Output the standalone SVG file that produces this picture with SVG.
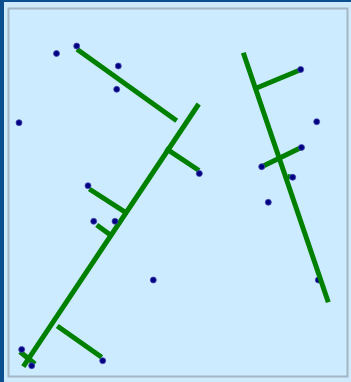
<svg xmlns="http://www.w3.org/2000/svg" width="351" height="382" viewBox="0 0 351 382">
<style>
.seg{stroke:#008000;stroke-width:5;fill:none;stroke-linecap:butt}
.pt{fill:#000080;stroke:#4a4ab8;stroke-width:0.8}
</style>
<rect x="0" y="0" width="351" height="382" fill="#cfeafd"/>
<rect x="0" y="0" width="4" height="382" fill="#0b4f8e"/>
<rect x="0" y="0" width="351" height="2" fill="#0b4f8e"/>
<rect x="8.5" y="8.5" width="339" height="368" fill="#cdebfe" stroke="#a3b6c5" stroke-width="2"/>
<g id="hidden-point">
<circle class="pt" cx="318.3" cy="280" r="3"/>
</g>
<g id="connectors">
<line class="seg" x1="77" y1="49.3" x2="176.7" y2="120.7"/>
<line class="seg" x1="198.7" y1="104" x2="23.3" y2="366.7"/>
<line class="seg" x1="165.7" y1="148.3" x2="199" y2="170.5"/>
<line class="seg" x1="89.3" y1="189" x2="125.5" y2="212.3"/>
<line class="seg" x1="96.7" y1="225" x2="110.5" y2="235"/>
<line class="seg" x1="57.3" y1="326" x2="101.7" y2="357.3"/>
<line class="seg" x1="20" y1="351.7" x2="35" y2="364"/>
<line class="seg" x1="243.3" y1="52.7" x2="328.3" y2="302.3"/>
<line class="seg" x1="256" y1="88.3" x2="301.7" y2="69.3"/>
<line class="seg" x1="260.7" y1="167.3" x2="301.7" y2="147.3"/>
<line class="seg" x1="287.5" y1="176.5" x2="293.3" y2="177.3"/>
</g>
<g id="points">
<circle class="pt" cx="56.5" cy="53.5" r="3"/>
<circle class="pt" cx="76.7" cy="46" r="3"/>
<circle class="pt" cx="118.3" cy="66" r="3"/>
<circle class="pt" cx="116.7" cy="89.3" r="3"/>
<circle class="pt" cx="19" cy="122.7" r="3"/>
<circle class="pt" cx="199.3" cy="173.5" r="3"/>
<circle class="pt" cx="88" cy="185.7" r="3"/>
<circle class="pt" cx="93.7" cy="221.3" r="3"/>
<circle class="pt" cx="115" cy="221.3" r="3"/>
<circle class="pt" cx="153.3" cy="280" r="3"/>
<circle class="pt" cx="21.7" cy="349.5" r="3"/>
<circle class="pt" cx="31.7" cy="365.7" r="3"/>
<circle class="pt" cx="102.7" cy="360.7" r="3"/>
<circle class="pt" cx="300.7" cy="69.5" r="3"/>
<circle class="pt" cx="316.7" cy="121.7" r="3"/>
<circle class="pt" cx="301.5" cy="147.5" r="3"/>
<circle class="pt" cx="261.7" cy="166.7" r="3"/>
<circle class="pt" cx="292.7" cy="177.3" r="3"/>
<circle class="pt" cx="268.3" cy="202.3" r="3"/>
</g>
</svg>
